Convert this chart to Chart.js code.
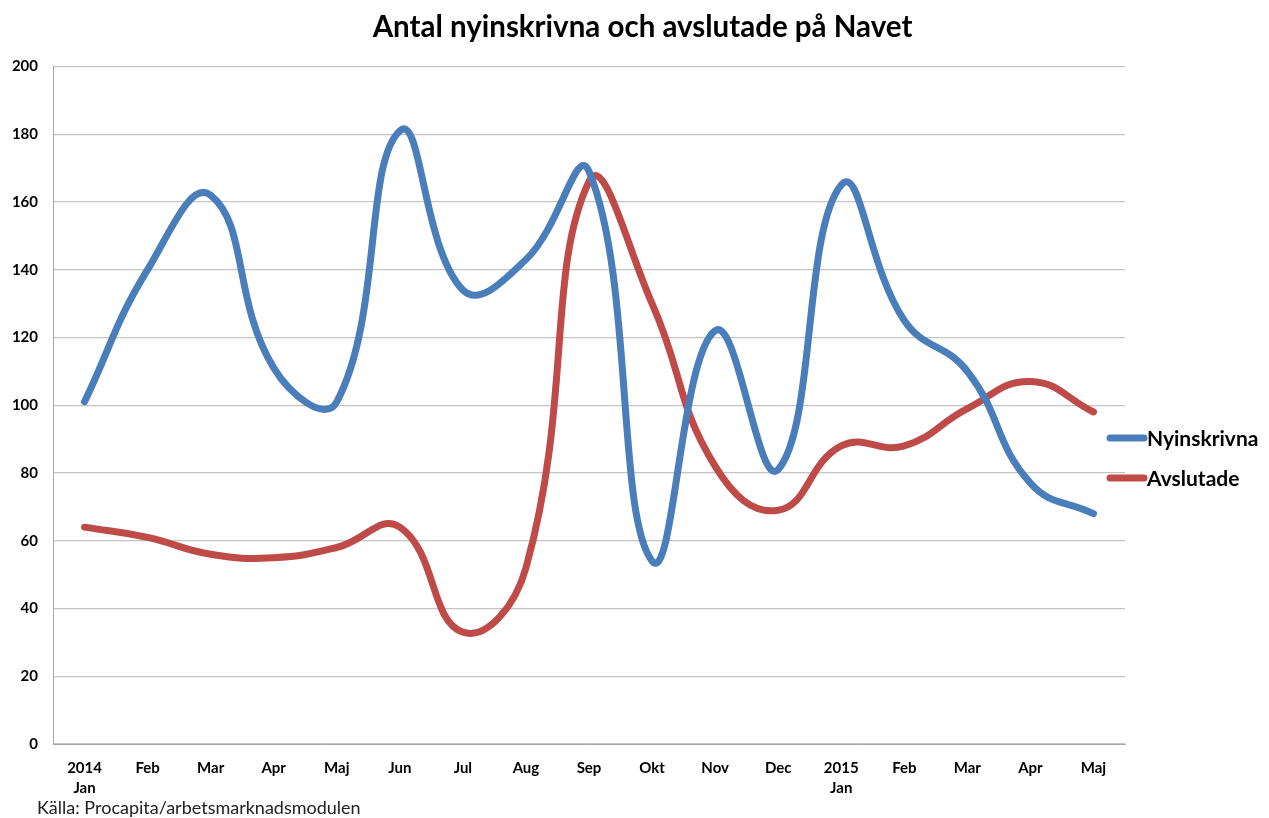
<!DOCTYPE html>
<html>
<head>
<meta charset="utf-8">
<script src="https://cdn.jsdelivr.net/npm/chart.js@4/dist/chart.umd.min.js"></script>
<style>
  html, body { margin: 0; padding: 0; background: #fff; }
  #wrap { width: 1269px; height: 818px; }
</style>
</head>
<body>
<div id="wrap"><canvas id="navetChart" width="1269" height="818"></canvas></div>
<script>
// Data
const months = [['2014', 'Jan'], 'Feb', 'Mar', 'Apr', 'Maj', 'Jun', 'Jul', 'Aug', 'Sep', 'Okt', 'Nov', 'Dec', ['2015', 'Jan'], 'Feb', 'Mar', 'Apr', 'Maj'];
const nyinskrivna = [101, 140, 162, 111, 101, 181, 134, 143, 169, 54, 122, 81, 165, 125, 110, 77, 68];
const avslutade = [64, 61, 56, 55, 58, 64, 33, 52, 166, 130, 82, 69, 88, 88, 99, 107, 98];
const yTicks = [0, 20, 40, 60, 80, 100, 120, 140, 160, 180, 200];

const FONT = 'Lato, "Open Sans", sans-serif';

// Legend + source line drawn on the canvas
const extras = {
  id: 'extras',
  afterDraw(chart) {
    const c = chart.ctx;
    c.save();
    chart.data.datasets.forEach((ds, i) => {
      const y = 438 + i * 40;
      c.strokeStyle = ds.borderColor;
      c.lineWidth = 7;
      c.lineCap = 'round';
      c.beginPath();
      c.moveTo(1110, y);
      c.lineTo(1144, y);
      c.stroke();
      c.fillStyle = '#000';
      c.font = 'bold 21px ' + FONT;
      c.textBaseline = 'middle';
      c.fillText(ds.label, 1147, y + 1);
    });
    c.font = '18px ' + FONT;
    c.fillStyle = '#222';
    c.textBaseline = 'middle';
    c.fillText('Källa: Procapita/arbetsmarknadsmodulen', 37, 808);
    c.restore();
  }
};

const ctx = document.getElementById('navetChart').getContext('2d');
new Chart(ctx, {
  type: 'line',
  data: {
    labels: months,
    datasets: [
      {
        label: 'Nyinskrivna',
        data: nyinskrivna,
        borderColor: '#4a7ebb',
        borderWidth: 7,
        tension: 0.45,
        pointRadius: 0,
        borderCapStyle: 'round',
        borderJoinStyle: 'round'
      },
      {
        label: 'Avslutade',
        data: avslutade,
        borderColor: '#be4b48',
        borderWidth: 7,
        tension: 0.45,
        pointRadius: 0,
        borderCapStyle: 'round',
        borderJoinStyle: 'round'
      }
    ]
  },
  options: {
    responsive: false,
    animation: false,
    // negative right padding shifts the title centre a bit to the right, like the original
    layout: { padding: { left: 0, right: -16, top: 0, bottom: 18 } },
    scales: {
      x: {
        offset: true,
        grid: { display: false, drawTicks: false },
        border: { color: '#a6a6a6', width: 1 },
        ticks: {
          color: '#000',
          padding: 14,
          maxRotation: 0,
          autoSkip: false,
          font: { family: FONT, size: 15, weight: 'bold', lineHeight: 1.33 }
        },
        afterFit: scale => { scale.height = 56; }
      },
      y: {
        min: 0,
        max: 200,
        afterBuildTicks: scale => { scale.ticks = yTicks.map(v => ({ value: v })); },
        grid: { color: '#c4c4c4', lineWidth: 1.3, drawTicks: false },
        border: { color: '#a6a6a6', width: 1 },
        ticks: {
          color: '#000',
          padding: 15,
          font: { family: FONT, size: 15, weight: 'bold' }
        },
        afterFit: scale => { scale.width = 53; }
      },
      // empty axis on the right, only reserves room for the legend
      legendSpace: {
        type: 'linear',
        position: 'right',
        grid: { display: false, drawTicks: false },
        border: { display: false },
        ticks: { display: false },
        afterFit: scale => { scale.width = 160; }
      }
    },
    plugins: {
      legend: { display: false },
      tooltip: { enabled: false },
      title: {
        display: true,
        text: 'Antal nyinskrivna och avslutade på Navet',
        color: '#000',
        font: { family: FONT, size: 29.5, weight: 'bold' },
        padding: { top: 10, bottom: 21 }
      }
    }
  },
  plugins: [extras]
});
</script>
</body>
</html>
